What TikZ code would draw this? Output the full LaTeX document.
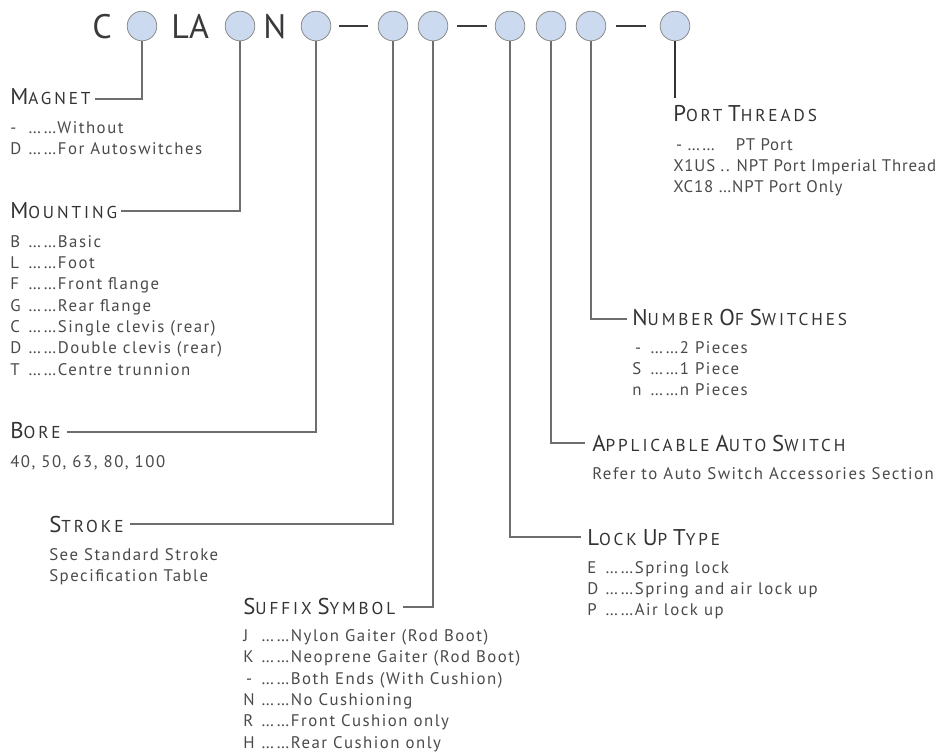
\documentclass[tikz,border=0pt]{standalone}
\usepackage{fontspec}
\setmainfont{PT Sans}
\newfontfamily\itemfont[LetterSpace=9]{PT Sans}
\newfontfamily\portfont[LetterSpace=5]{PT Sans}
\newfontfamily\headfont[LetterSpace=17]{PT Sans}
\usetikzlibrary{calc,positioning}
\definecolor{codegray}{HTML}{3A3A3A}
\definecolor{headgray}{HTML}{333333}
\definecolor{txtgray}{HTML}{4A4A4A}
\definecolor{leadgray}{HTML}{6E6E6E}
\definecolor{bubblefill}{HTML}{CCDAF0}
\definecolor{bubbleline}{HTML}{8C8C8C}
% judul bagian: huruf awal besar + kapital kecil
\newcommand\hd[2]{{\fontsize{17.1pt}{20pt}\selectfont #1}{\fontsize{12.9pt}{16pt}\selectfont #2}}
% satu pilihan: kode | titik-titik | keterangan
\newcommand\opt[2]{\makebox[13.5pt][l]{#1}……#2}
% daftar baris, garis dasar = baris pertama
\newcommand\lst[1]{\begin{tabular}[t]{@{}l@{}}#1\end{tabular}}
\tikzset{
  % bulatan kode pesanan
  bubble/.style={circle, draw=bubbleline, fill=bubblefill, minimum size=22.2pt,
                 inner sep=0pt, line width=0.6pt},
  % huruf kode besar (C, LA, N)
  code/.style={font=\fontsize{25.5pt}{28pt}\selectfont, text=codegray,
               anchor=base west, inner sep=0pt},
  sepdash/.style={fill=codegray, minimum width=21.8pt, minimum height=2pt, inner sep=0pt},
  % judul dan daftar pilihan
  head/.style={font=\headfont, text=headgray, anchor=base west, inner sep=0pt},
  items/.style={font=\itemfont\fontsize{12.6pt}{16pt}\selectfont, text=txtgray,
                anchor=base west, inner sep=0pt},
  portitems/.style={items, font=\portfont\fontsize{12.6pt}{16pt}\selectfont},
  % garis penunjuk
  lead/.style={draw=leadgray, line width=0.9pt},
  portlead/.style={draw=headgray, line width=0.8pt},
}
\begin{document}
\begin{tikzpicture}[x=0.75pt, y=-0.75pt]
\useasboundingbox (0,0) rectangle (949,751);

% =================== KODE PESANAN ===================
\node[code] (pC) at (92,38) {C};
\node[code] (pLA) at (171,38) {LA};
\node[code] (pN) at (263,38) {N};

\node[bubble] (c1) at (142,26) {};
\node[bubble] (c2) at (240,26) {};
\node[bubble] (c3) at (316,26) {};
\node[sepdash] (s1) at (353.5,26) {};
\node[bubble] (c4) at (393,26) {};
\node[bubble] (c5) at (433,26) {};
\node[sepdash] (s2) at (472,26) {};
\node[bubble] (c6) at (510,26) {};
\node[bubble] (c7) at (551,26) {};
\node[bubble] (c8) at (591,26) {};
\node[sepdash] (s3) at (631,26) {};
\node[bubble] (c9) at (675,26) {};

% =================== KETERANGAN ===================
\node[head] (magnet) at (10,104) {\hd{M}{AGNET}};
\node[items] (magnetopt) at (10,133) {\lst{\opt{-}{Without}\\ \opt{D}{For Autoswitches}}};

\node[head] (mounting) at (10,218) {\hd{M}{OUNTING}};
\node[items] (mountingopt) at (10,247) {\lst{\opt{B}{Basic}\\ \opt{L}{Foot}\\ \opt{F}{Front flange}\\
  \opt{G}{Rear flange}\\ \opt{C}{Single clevis (rear)}\\ \opt{D}{Double clevis (rear)}\\
  \opt{T}{Centre trunnion}}};

\node[head] (bore) at (10,438) {\hd{B}{ORE}};
\node[items] (boreopt) at (10,467) {40, 50, 63, 80, 100};

\node[head] (stroke) at (49,532) {\hd{S}{TROKE}};
\node[items] (strokeopt) at (49,560) {\lst{See Standard Stroke\\ Specification Table}};

\node[head] (suffix) at (243,614) {\hd{S}{UFFIX} \hd{S}{YMBOL}};
\node[items] (suffixopt) at (243,641.5) {\lst{\opt{J}{Nylon Gaiter (Rod Boot)}\\
  \opt{K}{Neoprene Gaiter (Rod Boot)}\\ \opt{\,-}{Both Ends (With Cushion)}\\
  \opt{N}{No Cushioning}\\ \opt{R}{Front Cushion only}\\ \opt{H}{Rear Cushion only}}};

\node[head] (lockup) at (587,545) {\hd{L}{OCK} \hd{U}{P} \hd{T}{YPE}};
\node[items] (lockupopt) at (587,573) {\lst{\opt{E}{Spring lock}\\ \opt{D}{Spring and air lock up}\\
  \opt{P}{Air lock up}}};

\node[head] (autosw) at (592,451) {\hd{A}{PPLICABLE} \hd{A}{UTO} \hd{S}{WITCH}};
\node[items] (autoswopt) at (592,479) {Refer to Auto Switch Accessories Section};

\node[head] (numsw) at (632,325) {\hd{N}{UMBER} \hd{O}{F} \hd{S}{WITCHES}};
\node[items] (numswopt) at (632,353) {\lst{\opt{\,-}{2 Pieces}\\ \opt{S}{1 Piece}\\ \opt{n}{n Pieces}}};

\node[head] (port) at (673,121) {\hd{P}{ORT} \hd{T}{HREADS}};
\node[portitems] (portopt) at (673,150) {\lst{\makebox[47pt][l]{\,- ……}PT Port\\
  X1US .. NPT Port Imperial Thread\\
  XC18 …NPT Port Only}};

% =================== GARIS PENUNJUK ===================
\draw[lead] (c1.south) |- ($(magnet.base east)+(4,-5)$);
\draw[lead] (c2.south) |- ($(mounting.base east)+(4,-7)$);
\draw[lead] (c3.south) |- ($(bore.base east)+(6,-6)$);
\draw[lead] (c4.south) |- ($(stroke.base east)+(6,-8)$);
\draw[lead] (c5.south) |- ($(suffix.base east)+(7,-7)$);
\draw[lead] (c6.south) |- ($(lockup.base west)+(-6,-8)$);
\draw[lead] (c7.south) |- ($(autosw.base west)+(-7,-8)$);
\draw[lead] (c8.south) |- ($(numsw.base west)+(-5,-6)$);
\draw[portlead] (c9.south) -- ($(c9.south |- port.north)+(0,-7)$);

\end{tikzpicture}
\end{document}
